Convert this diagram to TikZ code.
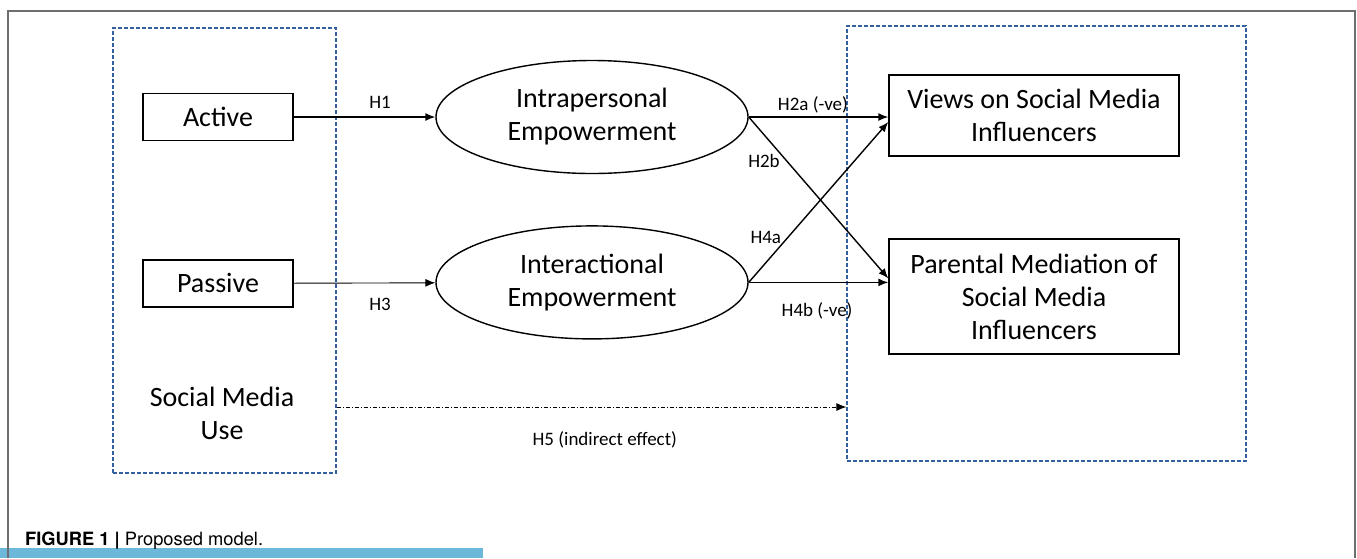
\documentclass[tikz,border=0pt]{standalone}
\usepackage{fontspec}
\setmainfont{Carlito}
\newfontfamily\capfont{TeX Gyre Heros}
\usepackage{tikz}
\usetikzlibrary{calc, positioning}
\usetikzlibrary{shapes, arrows.meta}
\definecolor{groupblue}{RGB}{52,96,160}
\definecolor{framegray}{RGB}{110,110,110}
\definecolor{barblue}{RGB}{108,184,218}
\tikzset{
    auto,node distance =1.1 cm and 1.1 cm,% default gap between nodes placed relative to each other
}

\begin{document}
\begin{tikzpicture}
            [x=1pt,y=-1pt,
            every node/.style={inner sep=0pt,font=\fontsize{28}{33}\selectfont},
            varbox/.style={draw,rectangle,line width=1.4pt,minimum width=150pt,minimum height=47pt},
            empbox/.style={draw,ellipse,line width=1.4pt,minimum width=312pt,minimum height=113pt,align=center},
            outbox/.style={draw,rectangle,line width=1.4pt,minimum width=290pt,align=center},
            groupbox/.style={draw=groupblue,dash pattern=on 4pt off 2pt,line width=1.3pt},
            link/.style={-{Latex[length=10pt,width=8pt]},line width=1.4pt},
            h5link/.style={-{Latex[length=10pt,width=8pt]},line width=0.9pt,dash pattern=on 4pt off 2pt on 1pt off 2pt},
            hlabel/.style={font=\fontsize{19}{22}\selectfont}]
            \useasboundingbox (0,0) rectangle (1357,558);
            \fill[barblue] (0,548) rectangle (483,558);
            \draw[framegray,line width=2pt] (8,558) -- (8,11) -- (1355,11) -- (1355,558);
            \node(caption) [anchor=base west,font=\capfont\fontsize{18.3}{21}\selectfont] at (25,545) {\textbf{FIGURE 1 |} Proposed model.};
            % dashed groups
            \node(usegroup) [groupbox,minimum width=223pt,minimum height=445pt] at (224.5,250.5) {};
            \node(inflgroup) [groupbox,minimum width=399pt,minimum height=435pt] at (1046.5,243.5) {};
            \node(smuse) [align=center] at (222,413) {Social Media\\Use};
            % variables
            \node(active) [varbox] at (218,117) {Active};
            \node(passive) [varbox,below=118pt of active] {Passive};
            \node(intra) [empbox] at (592,117) {Intrapersonal\\Empowerment};
            \node(inter) [empbox,below=51pt of intra] {Interactional\\Empowerment};
            \node(views) [outbox,minimum height=81pt] at (1034,115.5) {Views on Social Media\\Influencers};
            \node(parental) [outbox,minimum height=115pt] at (1034,296.5) {Parental Mediation of\\Social Media\\Influencers};
            % hypotheses
            \draw[link] (active) -- (intra) node[hlabel,pos=0.61,above=8pt] {H1};
            \draw[link,line width=0.9pt] (passive) -- (inter) node[hlabel,pos=0.61,below=15pt] {H3};
            \draw[link] (intra.east) -- (intra.east -| views.west) node[hlabel,pos=0.46,above=3pt] {H2a (-ve)};
            \draw[link] (intra.east) -- ($(inter.east -| parental.west)+(0,-4)$) node[hlabel,pos=0.27,left=6pt] {H2b};
            \draw[link] (inter.east) -- ($(intra.east -| views.west)+(0,5)$) node[hlabel,pos=0.28,left=6pt] {H4a};
            \draw[link] (inter.east) -- (inter.east -| parental.west) node[hlabel,pos=0.49,below=19pt] {H4b (-ve)};
            \coordinate(h5start) at ([yshift=-156.5pt]usegroup.east);
            \draw[h5link] (h5start) -- (h5start -| inflgroup.west) node[hlabel,pos=0.526,below=24pt] {H5 (indirect effect)};
        \end{tikzpicture}
\end{document}
